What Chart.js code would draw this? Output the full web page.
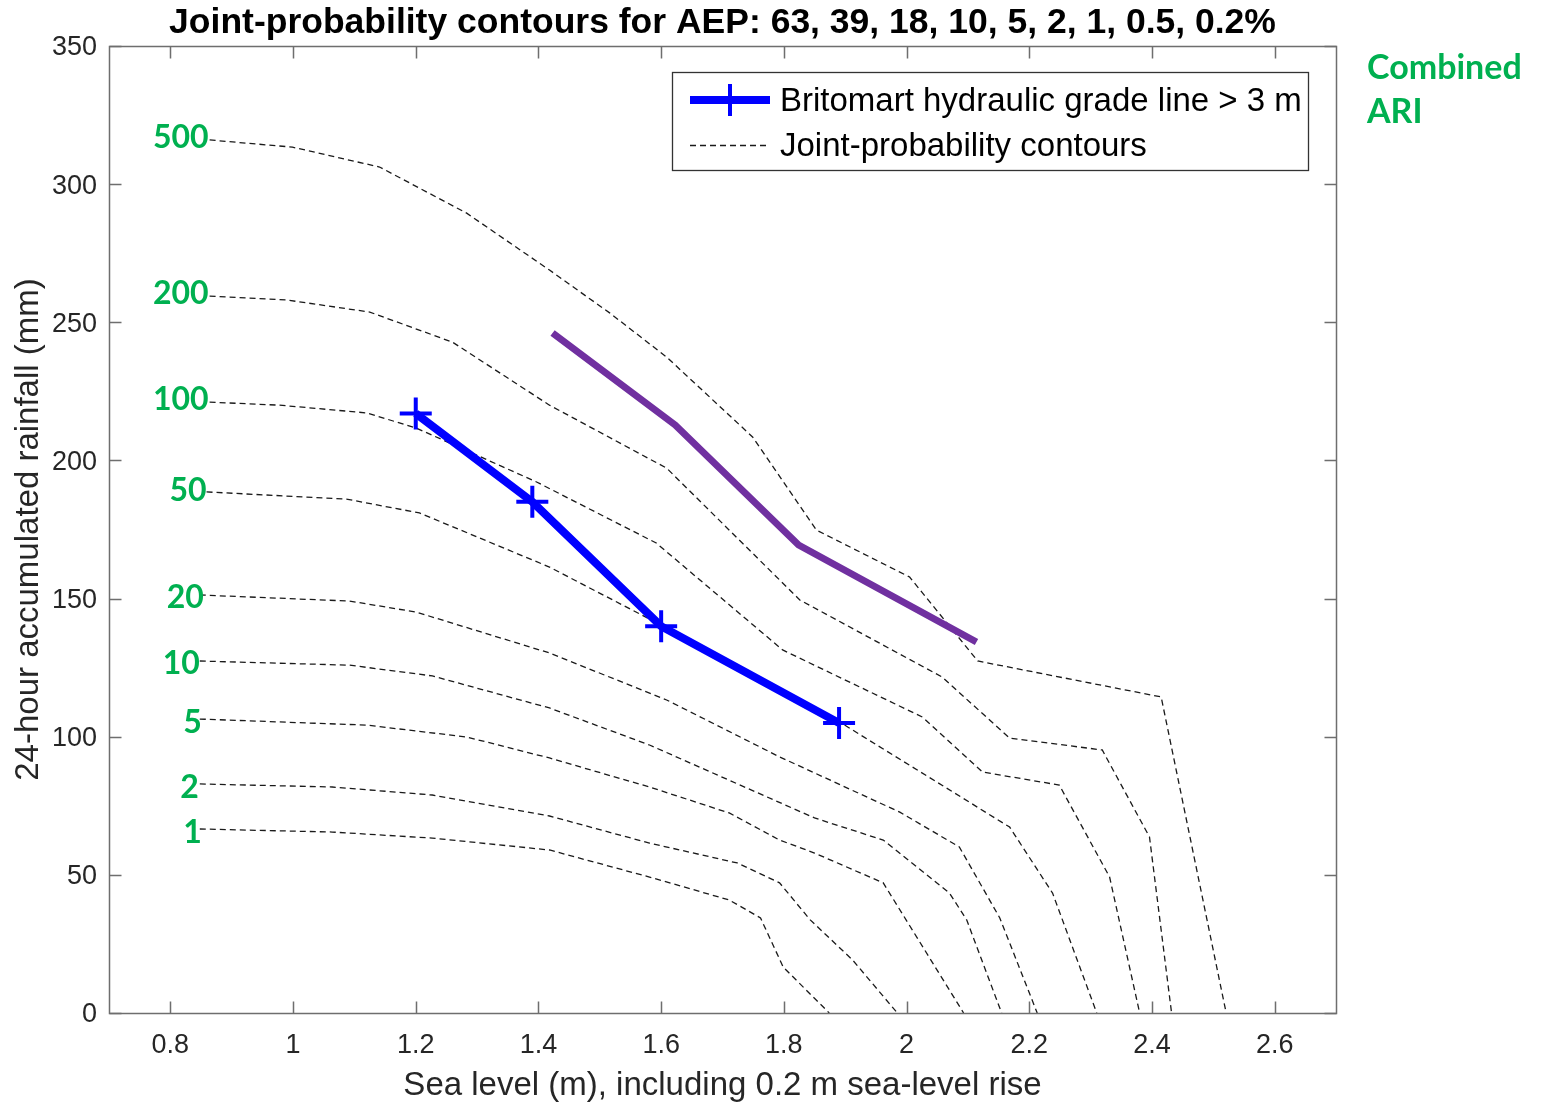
<!DOCTYPE html>
<html>
<head>
<meta charset="utf-8">
<script src="https://cdn.jsdelivr.net/npm/chart.js@4.4.1/dist/chart.umd.min.js"></script>
<style>
html,body{margin:0;padding:0;background:#ffffff;}
#wrap{width:1542px;height:1103px;position:relative;}
</style>
</head>
<body>
<div id="wrap"><canvas id="c" width="1542" height="1103"></canvas></div>
<script>
// ---------------- data ----------------
const aepPercent = [63, 39, 18, 10, 5, 2, 1, 0.5, 0.2];
const ariLabels = ['500', '200', '100', '50', '20', '10', '5', '2', '1'];
const xTicks = [0.8, 1.0, 1.2, 1.4, 1.6, 1.8, 2.0, 2.2, 2.4, 2.6];
const yTicks = [0, 50, 100, 150, 200, 250, 300, 350];

// Britomart hydraulic grade line > 3 m
const hglX = [1.20, 1.39, 1.60, 1.89];
const hglY = [217, 185, 140, 105];

// purple line
const purpleX = [1.423, 1.623, 1.824, 2.114];
const purpleY = [246.1, 212.8, 169.4, 134.3];

// joint-probability contours (combined ARI)
const c500X = [0.864, 0.999, 1.141, 1.283, 1.418, 1.516, 1.609, 1.749, 1.853, 2.005, 2.116, 2.415, 2.521];
const c500Y = [316.0, 313.4, 306.2, 289.5, 268.9, 253.4, 237.4, 208.5, 174.8, 157.8, 127.4, 114.4, 0];
const c200X = [0.864, 0.989, 1.125, 1.260, 1.418, 1.609, 1.826, 2.058, 2.168, 2.319, 2.396, 2.432];
const c200Y = [259.5, 258.1, 253.7, 242.8, 220.0, 197.2, 149.5, 121.6, 99.5, 95.2, 63.7, 0];
const c100X = [0.864, 0.978, 1.120, 1.201, 1.397, 1.592, 1.798, 2.026, 2.124, 2.249, 2.331, 2.380];
const c100Y = [221.1, 220.0, 217.2, 211.7, 192.2, 170.1, 131.4, 107.1, 87.2, 82.5, 49.2, 0];
const c50X = [0.859, 1.087, 1.206, 1.418, 1.600, 1.886, 2.168, 2.238, 2.310];
const c50Y = [188.6, 186.0, 181.0, 161.4, 140.4, 106.0, 67.3, 43.4, 0];
const c20X = [0.848, 1.092, 1.201, 1.418, 1.609, 1.793, 1.989, 2.086, 2.152, 2.213];
const c20Y = [151.3, 149.1, 145.1, 130.3, 113.3, 92.7, 72.7, 60.1, 34.4, 0];
const c10X = [0.848, 1.092, 1.227, 1.418, 1.581, 1.850, 1.962, 2.070, 2.098, 2.155];
const c10Y = [127.4, 125.9, 122.0, 110.4, 97.0, 70.6, 62.6, 43.4, 33.7, 0];
const c5X = [0.848, 1.120, 1.283, 1.418, 1.581, 1.711, 1.793, 1.850, 1.962, 2.093];
const c5Y = [106.4, 104.2, 99.9, 92.3, 81.8, 72.4, 62.6, 57.9, 47.1, 0];
const c2X = [0.848, 1.064, 1.227, 1.418, 1.581, 1.724, 1.793, 1.843, 1.912, 1.985];
const c2Y = [82.9, 81.8, 78.9, 71.3, 61.5, 54.3, 47.1, 33.7, 19.2, 0];
const c1X = [0.848, 1.064, 1.227, 1.418, 1.581, 1.711, 1.762, 1.799, 1.874];
const c1Y = [66.6, 65.5, 63.3, 59.0, 49.2, 40.9, 34.4, 16.6, 0];

const contourXs = [c500X, c200X, c100X, c50X, c20X, c10X, c5X, c2X, c1X];
const contourYs = [c500Y, c200Y, c100Y, c50Y, c20Y, c10Y, c5Y, c2Y, c1Y];

// ---------------- helpers / styles ----------------
const zip = (xs, ys) => xs.map((v, i) => ({x: v, y: ys[i]}));
const fmt = v => String(+Number(v).toFixed(2));

const AXIS_TEXT = '#262626';
const GREEN = '#00B050';
const BLUE = '#0000FF';
const PURPLE = '#7030A0';
const DASH = [6, 4];
const SANS = '"Liberation Sans", Arial, sans-serif';
// small label nudges (pixels) so the ARI numbers sit where the original annotations were
const labelNudge = {'500': [0, -2], '200': [0, -2], '100': [0, -2], '50': [1, -1],
                    '20': [5, 3], '10': [1, 3], '5': [3, 4], '2': [0, 4], '1': [3, 4]};

const datasets = [
  {
    label: 'Britomart hydraulic grade line > 3 m',
    data: zip(hglX, hglY),
    showLine: true,
    borderColor: BLUE,
    borderWidth: 8,
    pointStyle: 'cross',
    pointRadius: 16,
    pointHoverRadius: 16,
    pointBorderColor: BLUE,
    pointBorderWidth: 4,
    pointBackgroundColor: BLUE,
    tension: 0
  },
  {
    label: '',
    data: zip(purpleX, purpleY),
    showLine: true,
    borderColor: PURPLE,
    borderWidth: 7,
    pointRadius: 0,
    tension: 0
  }
];
contourXs.forEach((xs, i) => {
  datasets.push({
    label: i === 0 ? 'Joint-probability contours' : '',
    ari: ariLabels[i],
    data: zip(xs, contourYs[i]),
    showLine: true,
    borderColor: '#1a1a1a',
    borderWidth: 1.3,
    borderDash: DASH,
    pointRadius: 0,
    tension: 0
  });
});

const titleText = 'Joint-probability contours for AEP: ' + aepPercent.join(', ') + '%';

// ---------------- plugins ----------------
const framePlugin = {
  id: 'frame',
  afterDatasetsDraw(chart) {
    const {ctx, chartArea: a, scales: {x, y}} = chart;
    ctx.save();
    const L = Math.round(a.left) + 0.5, R = Math.round(a.right) + 0.5;
    const T = Math.round(a.top) + 0.5, B = Math.round(a.bottom) + 0.5;
    ctx.strokeStyle = '#6e6e6e';
    ctx.lineWidth = 1.5;
    ctx.setLineDash([]);
    ctx.strokeRect(L, T, R - L, B - T);
    const tl = 12;
    ctx.beginPath();
    xTicks.forEach(v => {
      const px = Math.round(x.getPixelForValue(v)) + 0.5;
      ctx.moveTo(px, B); ctx.lineTo(px, B - tl);
      ctx.moveTo(px, T); ctx.lineTo(px, T + tl);
    });
    yTicks.forEach(v => {
      const py = Math.round(y.getPixelForValue(v)) + 0.5;
      ctx.moveTo(L, py); ctx.lineTo(L + tl, py);
      ctx.moveTo(R, py); ctx.lineTo(R - tl, py);
    });
    ctx.stroke();

    // title, centred over the plot area
    ctx.fillStyle = '#000000';
    ctx.font = 'bold 35.5px ' + SANS;
    ctx.textAlign = 'center';
    ctx.textBaseline = 'middle';
    ctx.fillText(titleText, (a.left + a.right) / 2, 23);

    // ARI labels at the start of each contour
    ctx.fillStyle = GREEN;
    ctx.font = 'bold 32px Lato, "Open Sans", sans-serif';
    ctx.textAlign = 'right';
    ctx.textBaseline = 'middle';
    chart.data.datasets.forEach(ds => {
      if (!ds.ari) return;
      const p = ds.data[0];
      const n = labelNudge[ds.ari] || [0, 0];
      const px = x.getPixelForValue(p.x);
      const py = y.getPixelForValue(p.y);
      ctx.fillText(ds.ari, px - 1 + n[0], py + n[1]);
    });
    ctx.textAlign = 'left';
    ctx.font = 'bold 34px Lato, "Open Sans", sans-serif';
    ctx.fillText('Combined', a.right + 31, 68);
    ctx.fillText('ARI', a.right + 31, 112);

    // legend
    const lx = 672.5, ly = 72.5, lw = 636, lh = 98;
    ctx.fillStyle = '#ffffff';
    ctx.fillRect(lx, ly, lw, lh);
    ctx.strokeStyle = '#333333';
    ctx.lineWidth = 1.3;
    ctx.strokeRect(lx, ly, lw, lh);

    const d0 = chart.data.datasets[0];
    ctx.strokeStyle = d0.borderColor;
    ctx.lineWidth = d0.borderWidth;
    ctx.beginPath(); ctx.moveTo(690, 100); ctx.lineTo(770, 100); ctx.stroke();
    ctx.lineWidth = d0.pointBorderWidth;
    ctx.beginPath();
    ctx.moveTo(730 - d0.pointRadius, 100); ctx.lineTo(730 + d0.pointRadius, 100);
    ctx.moveTo(730, 100 - d0.pointRadius); ctx.lineTo(730, 100 + d0.pointRadius);
    ctx.stroke();

    const d2 = chart.data.datasets[2];
    ctx.strokeStyle = d2.borderColor;
    ctx.lineWidth = d2.borderWidth;
    ctx.setLineDash(d2.borderDash);
    ctx.beginPath(); ctx.moveTo(690, 145.5); ctx.lineTo(768, 145.5); ctx.stroke();
    ctx.setLineDash([]);

    ctx.fillStyle = '#000000';
    ctx.font = '33px ' + SANS;
    ctx.textAlign = 'left';
    ctx.textBaseline = 'middle';
    ctx.fillText(d0.label, 780, 102);
    ctx.fillText(d2.label, 780, 147);
    ctx.restore();
  }
};

new Chart(document.getElementById('c'), {
  type: 'scatter',
  data: {datasets},
  options: {
    responsive: false,
    animation: false,
    devicePixelRatio: 1,
    layout: {padding: {left: 0, right: 206, top: 46, bottom: 0}},
    plugins: {
      legend: {display: false},
      tooltip: {enabled: false},
      title: {display: false}
    },
    scales: {
      x: {
        type: 'linear',
        min: 0.7,
        max: 2.7,
        afterBuildTicks: s => { s.ticks = xTicks.map(v => ({value: v})); },
        afterFit: s => { s.height = 90; },
        grid: {display: false, drawTicks: false},
        border: {display: false},
        ticks: {
          color: AXIS_TEXT,
          padding: 16,
          autoSkip: false,
          maxRotation: 0,
          font: {family: SANS, size: 27},
          callback: v => fmt(v)
        },
        title: {
          display: true,
          text: 'Sea level (m), including 0.2 m sea-level rise',
          color: AXIS_TEXT,
          font: {family: SANS, size: 33},
          padding: {top: 0, bottom: -3}
        }
      },
      y: {
        type: 'linear',
        min: 0,
        max: 350,
        afterBuildTicks: s => { s.ticks = yTicks.map(v => ({value: v})); },
        afterFit: s => { s.width = 109; },
        grid: {display: false, drawTicks: false},
        border: {display: false},
        ticks: {
          color: AXIS_TEXT,
          padding: 12,
          labelOffset: 2,
          font: {family: SANS, size: 27},
          callback: v => fmt(v)
        },
        title: {
          display: true,
          text: '24-hour accumulated rainfall (mm)',
          color: AXIS_TEXT,
          font: {family: SANS, size: 33},
          padding: {top: 9, bottom: 0}
        }
      }
    }
  },
  plugins: [framePlugin]
});
</script>
</body>
</html>
